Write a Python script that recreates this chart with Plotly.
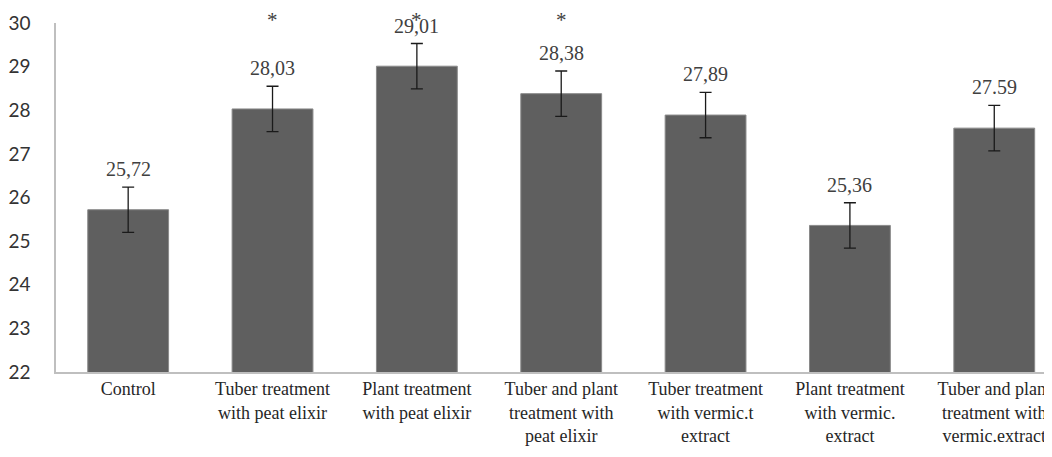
import plotly.graph_objects as go

categories = [
    "Control",
    "Tuber treatment<br>with peat elixir",
    "Plant treatment<br>with peat elixir",
    "Tuber and plant<br>treatment with<br>peat elixir",
    "Tuber treatment<br>with vermic.t<br>extract",
    "Plant treatment<br>with vermic.<br>extract",
    "Tuber and plant<br>treatment with<br>vermic.extract",
]
values = [25.72, 28.03, 29.01, 28.38, 27.89, 25.36, 27.59]
errors = [0.52, 0.52, 0.52, 0.52, 0.52, 0.52, 0.52]
value_labels = ["25,72", "28,03", "29,01", "28,38", "27,89", "25,36", "27.59"]
significant = [False, True, True, True, False, False, False]
y_ticks = [22, 23, 24, 25, 26, 27, 28, 29, 30]

x_idx = list(range(len(categories)))

fig = go.Figure()
fig.add_trace(go.Bar(
    x=x_idx, y=values,
    width=0.56,
    marker=dict(color="#5f5f5f", line=dict(color="#8a8a8a", width=1)),
    error_y=dict(type="data", array=errors, visible=True, color="#1a1a1a", thickness=1.3, width=6),
    hoverinfo="skip",
))

for i, (v, e, lab) in enumerate(zip(values, errors, value_labels)):
    fig.add_annotation(x=i, y=v + e, text=lab, showarrow=False, yanchor="bottom", yshift=5,
                       font=dict(family="Liberation Serif", size=20, color="#404040"))
for i, s in enumerate(significant):
    if s:
        fig.add_annotation(x=i, xref="x", y=1.0, yref="paper", yshift=3, text="*",
                           showarrow=False, yanchor="middle",
                           font=dict(family="Liberation Serif", size=21, color="#404040"))

fig.update_layout(
    width=1044, height=449,
    margin=dict(l=48, r=0, t=15, b=85, autoexpand=False),
    paper_bgcolor="white", plot_bgcolor="white",
    showlegend=False,
)
fig.update_xaxes(
    range=[-0.5, 6.4],
    tickmode="array", tickvals=x_idx, ticktext=categories,
    showline=True, linecolor="#bfbfbf", linewidth=1.5,
    showgrid=False, ticks="", zeroline=False, automargin=False,
    tickfont=dict(family="Liberation Serif", size=18, color="#262626"),
    tickangle=0,
)
fig.update_yaxes(
    range=[22, 30],
    tickmode="array", tickvals=y_ticks, ticktext=[str(t) for t in y_ticks],
    showline=True, linecolor="#bfbfbf", linewidth=1.5,
    showgrid=False, ticks="", zeroline=False, automargin=False,
    ticklabelstandoff=20,
    tickfont=dict(family="Lato", size=19, color="#333333"),
)

fig.write_html("out.html")
